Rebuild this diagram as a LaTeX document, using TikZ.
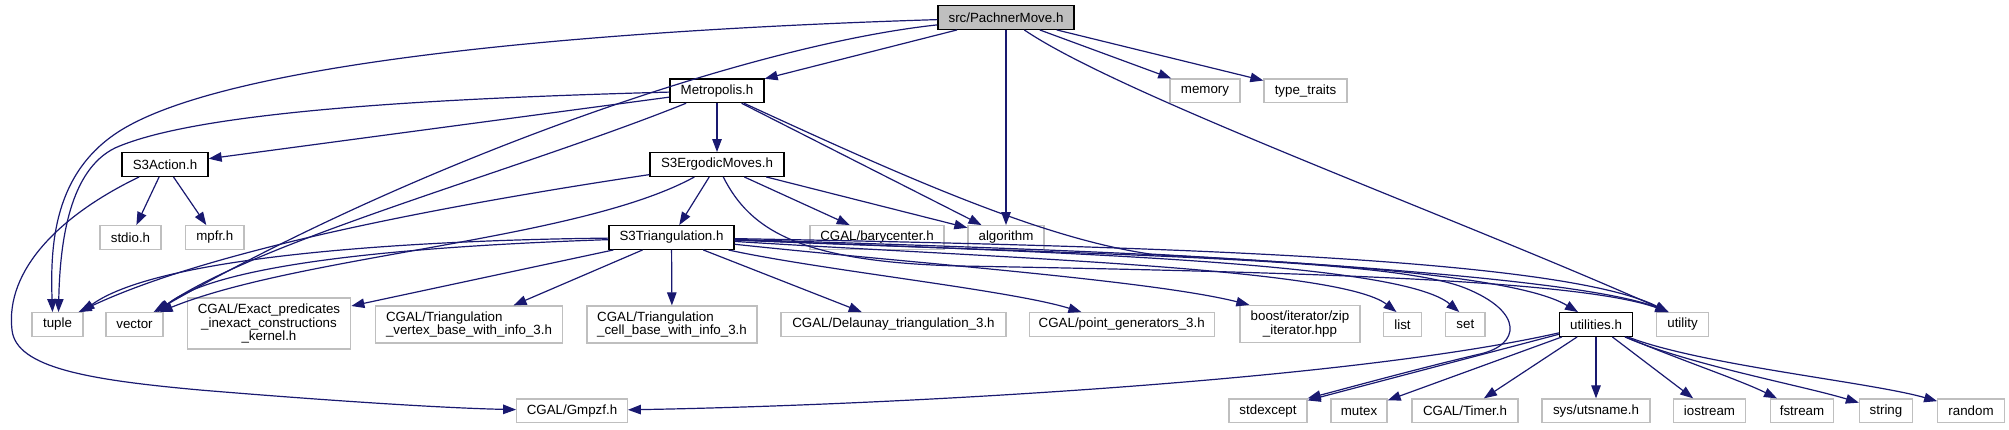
\documentclass[tikz,border=0pt]{standalone}
\usepackage{fontspec}
\setmainfont{Liberation Sans}
\usetikzlibrary{arrows.meta}
\definecolor{eblue}{HTML}{191970}
\definecolor{gbord}{HTML}{BFBFBF}
\definecolor{gfill}{HTML}{BFBFBF}
\newcommand\dfont{\fontsize{13.33}{13.8}\selectfont}
\begin{document}
\begin{tikzpicture}[x=1pt,y=-1pt,
  doc/.style={draw=black, line width=1.3pt, inner sep=0pt, font=\dfont, minimum height=23.6pt},
  ext/.style={draw=gbord, line width=1.3pt, inner sep=0pt, font=\dfont, minimum height=23.6pt},
  dep/.style={draw=eblue, line width=1.2pt, -{Triangle[length=13pt,width=9.5pt]}}]
\useasboundingbox (0,0) rectangle (2009,429);
% row 1
\node[doc, fill=gfill, minimum width=136pt] (pm) at (1006,17.5) {src/PachnerMove.h};
% row 2
\node[doc, minimum width=94pt] (metro) at (717,90.8) {Metropolis.h};
\node[ext, minimum width=70pt] (memory) at (1205,90.8) {memory};
\node[ext, minimum width=83pt] (typetr) at (1305.5,90.8) {type\_traits};
% row 3
\node[doc, minimum width=86pt] (s3action) at (165,164.5) {S3Action.h};
\node[doc, minimum width=134pt] (ergodic) at (717,164.5) {S3ErgodicMoves.h};
% row 4
\node[ext, minimum width=61pt] (stdio) at (130.5,237.5) {stdio.h};
\node[ext, minimum width=58.3pt] (mpfr) at (214.8,237.5) {mpfr.h};
\node[doc, minimum width=125pt] (s3tri) at (671.5,237.5) {S3Triangulation.h};
\node[ext, minimum width=134pt] (bary) at (877,237.5) {CGAL/barycenter.h};
\node[ext, minimum width=76pt] (algo) at (1006,237.5) {algorithm};
% row 5
\node[ext, minimum width=51pt] (tuple) at (57.5,324.5) {tuple};
\node[ext, minimum width=57pt] (vector) at (134.5,324.5) {vector};
\node[ext, minimum width=163.5pt, minimum height=51pt, align=center] (exact) at (269,323.5) {CGAL/Exact\_predicates\\\_inexact\_constructions\\\_kernel.h};
\node[ext, minimum width=186.5pt, minimum height=37pt, align=left] (vertex) at (469,324.5) {CGAL/Triangulation\\\_vertex\_base\_with\_info\_3.h};
\node[ext, minimum width=170pt, minimum height=37pt, align=left] (cell) at (672,324.5) {CGAL/Triangulation\\\_cell\_base\_with\_info\_3.h};
\node[ext, minimum width=225pt] (delaunay) at (893.5,324.5) {CGAL/Delaunay\_triangulation\_3.h};
\node[ext, minimum width=185pt] (pointgen) at (1121.7,324.5) {CGAL/point\_generators\_3.h};
\node[ext, minimum width=120pt, minimum height=37pt, align=center] (boost) at (1300,324) {boost/iterator/zip\\\_iterator.hpp};
\node[ext, minimum width=38.5pt] (list) at (1402.5,324.5) {list};
\node[ext, minimum width=39.3pt] (set) at (1465.3,324.5) {set};
\node[doc, minimum width=73pt] (utilities) at (1596,324.5) {utilities.h};
\node[ext, minimum width=51.6pt] (utility) at (1682.5,324.5) {utility};
% row 6
\node[ext, minimum width=110.5pt] (gmpzf) at (572,410.8) {CGAL/Gmpzf.h};
\node[ext, minimum width=78pt] (stdexcept) at (1268,410.8) {stdexcept};
\node[ext, minimum width=56pt] (mutex) at (1359,410.8) {mutex};
\node[ext, minimum width=106pt] (timer) at (1465,410.8) {CGAL/Timer.h};
\node[ext, minimum width=108pt] (utsname) at (1596,410.8) {sys/utsname.h};
\node[ext, minimum width=72pt] (iostream) at (1709.5,410.8) {iostream};
\node[ext, minimum width=63.5pt] (fstream) at (1802,410.8) {fstream};
\node[ext, minimum width=53pt] (string) at (1886,410.8) {string};
\node[ext, minimum width=66.5pt] (random) at (1971,410.8) {random};

% edges from PachnerMove
\draw[dep] (pm) .. controls (600,30) and (250,60) .. (130,125) .. controls (55,165) and (50,240) .. ([xshift=-5pt]tuple.north);
\draw[dep] (pm) .. controls (750,45) and (420,160) .. ([xshift=-10pt]vector.north east);
\draw[dep] (pm) -- (metro);
\draw[dep] (pm) -- (algo);
\draw[dep] (pm) -- (memory);
\draw[dep] (pm) -- (typetr);
\draw[dep] (pm) .. controls (1120,95) and (1450,215) .. ([xshift=-14pt]utility.north);
% edges from Metropolis
\draw[dep] (metro) .. controls (450,98) and (200,110) .. (115,148) .. controls (70,170) and (60,240) .. ([xshift=1pt]tuple.north);
\draw[dep] (metro) -- (s3action);
\draw[dep] (metro) .. controls (520,170) and (260,240) .. ([xshift=-8pt]vector.north east);
\draw[dep] (metro) -- (ergodic);
\draw[dep] (metro) -- (algo);
\draw[dep] (metro) .. controls (900,175) and (1040,238) .. (1150,254) .. controls (1400,268) and (1600,285) .. ([xshift=-14pt]utility.north);
% edges from S3Action
\draw[dep] (s3action) -- (stdio);
\draw[dep] (s3action) -- (mpfr);
\draw[dep] (s3action) .. controls (60,215) and (5,270) .. (12,330) .. controls (16,368) and (90,380) .. (200,390) .. controls (320,400) and (440,408) .. (gmpzf);
% edges from S3ErgodicMoves
\draw[dep] (ergodic) .. controls (480,200) and (220,245) .. ([xshift=-5pt]tuple.north east);
\draw[dep] (ergodic) .. controls (580,240) and (300,255) .. ([xshift=-4pt]vector.north east);
\draw[dep] (ergodic) -- (s3tri);
\draw[dep] (ergodic) -- (bary);
\draw[dep] (ergodic) -- (algo);
\draw[dep] (ergodic) .. controls (750,230) and (800,262) .. (960,266) .. controls (1300,272) and (1580,280) .. ([xshift=-14pt]utility.north);
% edges from S3Triangulation
\draw[dep] (s3tri) .. controls (420,240) and (160,255) .. ([xshift=-2pt]tuple.north east);
\draw[dep] (s3tri) .. controls (420,246) and (220,262) .. ([xshift=-6pt]vector.north east);
\draw[dep] (s3tri) -- (exact);
\draw[dep] (s3tri) -- (vertex);
\draw[dep] (s3tri) -- (cell);
\draw[dep] (s3tri) -- (delaunay);
\draw[dep] (s3tri) .. controls (820,270) and (1010,290) .. (pointgen);
\draw[dep] (s3tri) .. controls (900,262) and (1150,280) .. ([xshift=10pt]boost.north west);
\draw[dep] (s3tri) .. controls (1000,258) and (1340,268) .. ([xshift=-6pt]list.north);
\draw[dep] (s3tri) .. controls (1050,252) and (1400,262) .. ([xshift=-6pt]set.north);
\draw[dep] (s3tri) .. controls (1150,252) and (1500,265) .. ([xshift=-18pt]utilities.north);
\draw[dep] (s3tri) .. controls (1150,246) and (1560,258) .. ([xshift=-14pt]utility.north);
\draw[dep] (s3tri) .. controls (1100,255) and (1390,258) .. (1465,288) .. controls (1525,312) and (1520,345) .. (1480,354) .. controls (1420,368) and (1340,390) .. (stdexcept.north east);
% edges from utilities
\draw[dep] (utilities) .. controls (1350,380) and (900,405) .. (gmpzf);
\draw[dep] (utilities) -- (stdexcept);
\draw[dep] (utilities) -- (mutex);
\draw[dep] (utilities) -- (timer);
\draw[dep] (utilities) -- (utsname);
\draw[dep] (utilities) -- (iostream);
\draw[dep] (utilities) .. controls (1680,360) and (1740,380) .. (fstream);
\draw[dep] (utilities) .. controls (1690,365) and (1800,385) .. (string);
\draw[dep] (utilities) .. controls (1700,365) and (1870,382) .. (random);
\end{tikzpicture}
\end{document}
